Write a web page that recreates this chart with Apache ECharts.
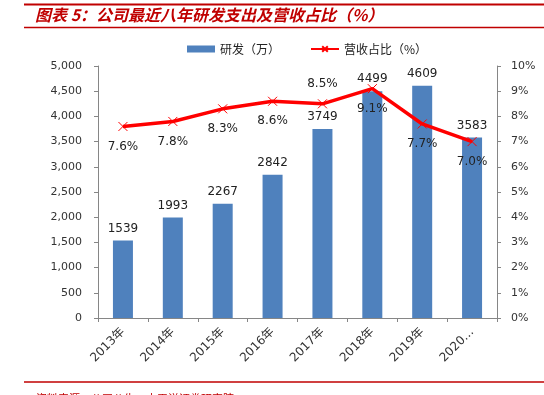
<!DOCTYPE html>
<html><head><meta charset="utf-8">
<script src="https://cdn.jsdelivr.net/npm/echarts@6/dist/echarts.min.js"></script>
<style>html,body{margin:0;padding:0;background:#fff}#c{width:544px;height:395px}</style>
</head><body><div id="c"></div>
<script>
const categories = ['2013年','2014年','2015年','2016年','2017年','2018年','2019年','2020…'];
const rdSpend = [1539, 1993, 2267, 2842, 3749, 4499, 4609, 3583];
const revenueRatio = [7.6, 7.8, 8.3, 8.6, 8.5, 9.1, 7.7, 7.0];
const ratioLabelPos = ['bottom','bottom','bottom','bottom','top','bottom','bottom','bottom'];
const titleText = '图表 5：公司最近八年研发支出及营收占比（%）';
const sourceText = '资料来源：公司公告，太平洋证券研究院';

const FONT = '"DejaVu Sans", "Noto Sans CJK SC", sans-serif';
const chart = echarts.init(document.getElementById('c'));
chart.setOption({
  animation: false,
  textStyle: { fontFamily: FONT },
  graphic: [
    { type: 'line', shape: { x1: 24, y1: 4.5, x2: 544, y2: 4.5 }, style: { stroke: '#c00000', lineWidth: 2 } },
    { type: 'line', shape: { x1: 24, y1: 27.5, x2: 544, y2: 27.5 }, style: { stroke: '#c00000', lineWidth: 1.5 } },
    { type: 'text', left: 35, top: 7, style: { text: titleText, fill: '#c00000', font: 'italic bold 16px "Noto Sans CJK SC", sans-serif' } },
    { type: 'line', shape: { x1: 24, y1: 382, x2: 544, y2: 382 }, style: { stroke: '#c00000', lineWidth: 1.5 } },
    { type: 'text', left: 36, top: 393, style: { text: sourceText, fill: '#c00000', font: '11px "Noto Sans CJK SC", sans-serif' } }
  ],
  legend: {
    top: 38, left: 182, itemGap: 30,
    textStyle: { fontSize: 12, color: '#222', fontFamily: '"Noto Sans CJK SC", sans-serif' },
    data: [
      { name: '研发（万）', icon: 'rect', itemStyle: { color: '#4f81bd' } },
      { name: '营收占比（%）' }
    ],
    itemWidth: 28, itemHeight: 7
  },
  grid: { left: 98, right: 47, top: 66, bottom: 77 },
  xAxis: {
    type: 'category', data: categories,
    axisLine: { lineStyle: { color: '#868686' } },
    axisTick: { show: true, length: 4, lineStyle: { color: '#868686' } },
    axisLabel: { rotate: 45, fontSize: 12, color: '#333', margin: 12 }
  },
  yAxis: [
    {
      type: 'value', min: 0, max: 5000, interval: 500,
      splitLine: { show: false },
      axisLine: { show: true, lineStyle: { color: '#868686' } },
      axisTick: { show: true, length: 4, lineStyle: { color: '#868686' } },
      axisLabel: { fontSize: 11, color: '#333', margin: 16,
        formatter: v => v.toLocaleString('en-US') }
    },
    {
      type: 'value', min: 0, max: 10, interval: 1,
      splitLine: { show: false },
      axisLine: { show: true, lineStyle: { color: '#868686' } },
      axisTick: { show: true, length: 4, lineStyle: { color: '#868686' } },
      axisLabel: { fontSize: 11, color: '#333', margin: 14, formatter: '{value}%' }
    }
  ],
  series: [
    {
      name: '研发（万）', type: 'bar', data: rdSpend, barWidth: 20,
      itemStyle: { color: '#4f81bd' },
      label: { show: true, position: 'top', fontSize: 12, color: '#222', distance: 6 }
    },
    {
      name: '营收占比（%）', type: 'line', yAxisIndex: 1,
      data: revenueRatio.map((v, i) => ({ value: v, label: { position: ratioLabelPos[i] } })),
      lineStyle: { color: '#ff0000', width: 3.5 },
      symbol: 'path://M0,0L10,10M10,0L0,10', symbolSize: 9,
      itemStyle: { color: 'rgba(0,0,0,0)', borderColor: '#ff0000', borderWidth: 1 },
      label: { show: true, fontSize: 12, color: '#222', distance: 9,
        formatter: p => p.value.toFixed(1) + '%' }
    }
  ]
});
</script></body></html>
